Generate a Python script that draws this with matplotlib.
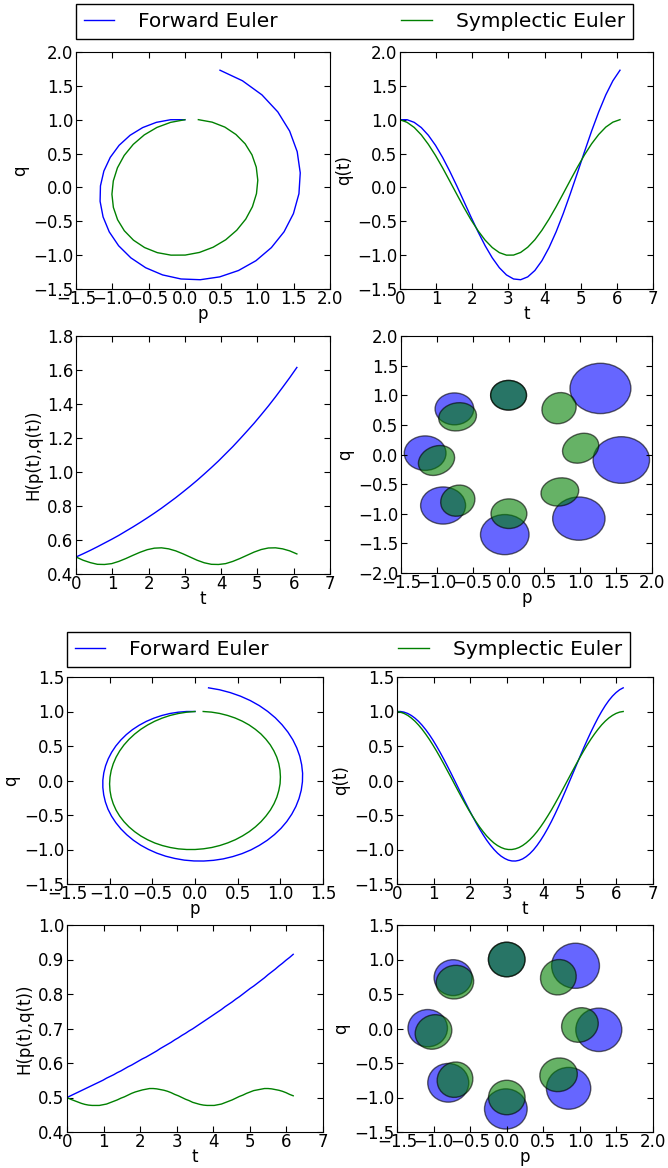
import numpy as np
import matplotlib
matplotlib.use("Agg")
import matplotlib.pyplot as plt
from matplotlib.patches import Ellipse
from matplotlib.lines import Line2D

# harmonic oscillator, dt = 2*pi/32 (upper block)
t_a = [0.000, 0.196, 0.393, 0.589, 0.785, 0.982, 1.178, 1.374, 1.571, 1.767, 1.963,
       2.160, 2.356, 2.553, 2.749, 2.945, 3.142, 3.338, 3.534, 3.731, 3.927, 4.123,
       4.320, 4.516, 4.712, 4.909, 5.105, 5.301, 5.498, 5.694, 5.890, 6.087]
p_fe_a = [0.000, -0.196, -0.393, -0.581, -0.755, -0.906, -1.028, -1.116, -1.163, -1.168, -1.127,
          -1.042, -0.913, -0.744, -0.540, -0.307, -0.053, 0.212, 0.480, 0.739, 0.980, 1.192,
          1.367, 1.496, 1.572, 1.590, 1.548, 1.444, 1.281, 1.062, 0.794, 0.484]
q_fe_a = [1.000, 1.000, 0.961, 0.884, 0.770, 0.622, 0.444, 0.242, 0.023, -0.205, -0.435,
          -0.656, -0.861, -1.040, -1.186, -1.292, -1.352, -1.363, -1.321, -1.227, -1.082, -0.889,
          -0.655, -0.387, -0.093, 0.215, 0.528, 0.832, 1.115, 1.367, 1.575, 1.731]
p_se_a = [0.000, -0.196, -0.385, -0.559, -0.711, -0.836, -0.929, -0.986, -1.005, -0.985, -0.927,
          -0.834, -0.708, -0.555, -0.380, -0.191, 0.005, 0.201, 0.390, 0.563, 0.715, 0.839,
          0.931, 0.987, 1.005, 0.984, 0.925, 0.831, 0.704, 0.551, 0.376, 0.186]
q_se_a = [1.000, 0.961, 0.886, 0.776, 0.636, 0.472, 0.290, 0.096, -0.101, -0.295, -0.477,
          -0.640, -0.779, -0.888, -0.963, -1.000, -0.999, -0.960, -0.883, -0.773, -0.632, -0.468,
          -0.285, -0.091, 0.106, 0.299, 0.481, 0.644, 0.782, 0.891, 0.964, 1.001]
H_fe_a = [0.500, 0.519, 0.539, 0.560, 0.582, 0.604, 0.627, 0.652, 0.677, 0.703, 0.730,
          0.758, 0.787, 0.818, 0.849, 0.882, 0.916, 0.951, 0.988, 1.026, 1.065, 1.107,
          1.149, 1.194, 1.240, 1.287, 1.337, 1.388, 1.442, 1.498, 1.555, 1.615]
H_se_a = [0.500, 0.481, 0.467, 0.457, 0.456, 0.461, 0.474, 0.491, 0.510, 0.528, 0.543,
          0.552, 0.554, 0.548, 0.536, 0.519, 0.500, 0.481, 0.466, 0.457, 0.456, 0.461,
          0.474, 0.491, 0.510, 0.529, 0.544, 0.553, 0.554, 0.548, 0.536, 0.518]
# disc of radius 0.25 around (0, 1), carried along every 4th step
disc_fe_a = [0.500, 0.539, 0.582, 0.627, 0.677, 0.730, 0.787, 0.849]
disc_se_w_a = [0.500, 0.536, 0.552, 0.536, 0.500, 0.536, 0.552, 0.536]
disc_se_h_a = [0.500, 0.466, 0.453, 0.466, 0.500, 0.466, 0.453, 0.467]
disc_se_ang_a = [0.0, -157.4, -134.9, 67.5, -179.9, -157.2, -134.8, 67.7]

# same, dt = 2*pi/64 (lower block)
t_b = [0.000, 0.098, 0.196, 0.295, 0.393, 0.491, 0.589, 0.687, 0.785, 0.884, 0.982,
       1.080, 1.178, 1.276, 1.374, 1.473, 1.571, 1.669, 1.767, 1.865, 1.963, 2.062,
       2.160, 2.258, 2.356, 2.454, 2.553, 2.651, 2.749, 2.847, 2.945, 3.043, 3.142,
       3.240, 3.338, 3.436, 3.534, 3.632, 3.731, 3.829, 3.927, 4.025, 4.123, 4.222,
       4.320, 4.418, 4.516, 4.614, 4.712, 4.811, 4.909, 5.007, 5.105, 5.203, 5.301,
       5.400, 5.498, 5.596, 5.694, 5.792, 5.890, 5.989, 6.087, 6.185]
p_fe_b = [0.000, -0.098, -0.196, -0.294, -0.389, -0.481, -0.570, -0.654, -0.733, -0.805, -0.870,
          -0.928, -0.977, -1.017, -1.048, -1.069, -1.080, -1.080, -1.070, -1.050, -1.020, -0.979,
          -0.928, -0.868, -0.799, -0.722, -0.637, -0.545, -0.447, -0.344, -0.236, -0.125, -0.012,
          0.103, 0.217, 0.331, 0.442, 0.551, 0.655, 0.753, 0.846, 0.931, 1.008, 1.076,
          1.134, 1.182, 1.219, 1.245, 1.259, 1.261, 1.250, 1.228, 1.193, 1.147, 1.089,
          1.020, 0.941, 0.852, 0.754, 0.647, 0.533, 0.413, 0.288, 0.159]
q_fe_b = [1.000, 1.000, 0.990, 0.971, 0.942, 0.904, 0.857, 0.801, 0.737, 0.665, 0.586,
          0.500, 0.409, 0.313, 0.213, 0.110, 0.005, -0.101, -0.207, -0.312, -0.415, -0.515,
          -0.611, -0.702, -0.787, -0.866, -0.937, -0.999, -1.053, -1.097, -1.130, -1.154, -1.166,
          -1.167, -1.157, -1.136, -1.103, -1.060, -1.006, -0.941, -0.867, -0.784, -0.693, -0.594,
          -0.488, -0.377, -0.261, -0.141, -0.019, 0.105, 0.228, 0.351, 0.472, 0.589, 0.701,
          0.808, 0.909, 1.001, 1.085, 1.159, 1.222, 1.274, 1.315, 1.343]
p_se_b = [0.000, -0.098, -0.195, -0.291, -0.383, -0.472, -0.556, -0.635, -0.708, -0.774, -0.833,
          -0.883, -0.925, -0.958, -0.982, -0.996, -1.001, -0.996, -0.982, -0.958, -0.925, -0.883,
          -0.832, -0.773, -0.707, -0.634, -0.555, -0.471, -0.382, -0.290, -0.194, -0.097, 0.001,
          0.099, 0.197, 0.292, 0.384, 0.473, 0.557, 0.636, 0.709, 0.775, 0.833, 0.884,
          0.926, 0.959, 0.982, 0.997, 1.001, 0.996, 0.982, 0.958, 0.924, 0.882, 0.831,
          0.773, 0.706, 0.633, 0.554, 0.470, 0.381, 0.288, 0.193, 0.096]
q_se_b = [1.000, 0.990, 0.971, 0.943, 0.905, 0.859, 0.804, 0.742, 0.672, 0.596, 0.514,
          0.428, 0.337, 0.243, 0.146, 0.049, -0.050, -0.148, -0.244, -0.338, -0.429, -0.515,
          -0.597, -0.673, -0.742, -0.805, -0.859, -0.906, -0.943, -0.971, -0.991, -1.000, -1.000,
          -0.990, -0.971, -0.942, -0.904, -0.858, -0.803, -0.741, -0.671, -0.595, -0.513, -0.427,
          -0.336, -0.242, -0.145, -0.047, 0.051, 0.149, 0.245, 0.339, 0.430, 0.517, 0.598,
          0.674, 0.743, 0.806, 0.860, 0.906, 0.943, 0.972, 0.991, 1.000]
H_fe_b = [0.500, 0.505, 0.510, 0.515, 0.520, 0.525, 0.530, 0.535, 0.540, 0.545, 0.550,
          0.556, 0.561, 0.566, 0.572, 0.577, 0.583, 0.589, 0.594, 0.600, 0.606, 0.612,
          0.617, 0.623, 0.629, 0.635, 0.642, 0.648, 0.654, 0.660, 0.667, 0.673, 0.680,
          0.686, 0.693, 0.699, 0.706, 0.713, 0.720, 0.727, 0.734, 0.741, 0.748, 0.755,
          0.763, 0.770, 0.777, 0.785, 0.792, 0.800, 0.808, 0.816, 0.823, 0.831, 0.839,
          0.847, 0.856, 0.864, 0.872, 0.881, 0.889, 0.898, 0.906, 0.915]
H_se_b = [0.500, 0.495, 0.491, 0.487, 0.483, 0.480, 0.478, 0.477, 0.477, 0.477, 0.479,
          0.481, 0.485, 0.489, 0.493, 0.498, 0.502, 0.507, 0.512, 0.516, 0.519, 0.522,
          0.524, 0.526, 0.526, 0.525, 0.523, 0.521, 0.518, 0.514, 0.509, 0.505, 0.500,
          0.495, 0.491, 0.486, 0.483, 0.480, 0.478, 0.477, 0.477, 0.477, 0.479, 0.481,
          0.485, 0.489, 0.493, 0.498, 0.503, 0.507, 0.512, 0.516, 0.520, 0.522, 0.524,
          0.526, 0.526, 0.525, 0.523, 0.521, 0.518, 0.514, 0.509, 0.505]
# every 8th step
disc_fe_b = [0.500, 0.520, 0.540, 0.561, 0.583, 0.606, 0.629, 0.654]
disc_se_w_b = [0.500, 0.518, 0.525, 0.518, 0.500, 0.518, 0.525, 0.518]
disc_se_h_b = [0.500, 0.483, 0.476, 0.483, 0.500, 0.483, 0.476, 0.483]
disc_se_ang_b = [0.0, -157.5, -135.0, 67.5, -180.0, -157.4, -134.9, 67.5]

plt.rcParams['font.family'] = ['DejaVu Sans']
plt.rcParams['font.size'] = 12
plt.rcParams['xtick.direction'] = 'in'
plt.rcParams['ytick.direction'] = 'in'
plt.rcParams['xtick.top'] = True
plt.rcParams['ytick.right'] = True
plt.rcParams['xtick.major.size'] = 4.5
plt.rcParams['ytick.major.size'] = 4.5
plt.rcParams['xtick.major.pad'] = 0.5
plt.rcParams['ytick.major.pad'] = 2
plt.rcParams['axes.labelpad'] = 3

W, H = 668, 1168
fig = plt.figure(figsize=(W / 100, H / 100), dpi=100)


def box(x0, y0, x1, y1):
    return [x0 / W, 1 - y1 / H, (x1 - x0) / W, (y1 - y0) / H]


def block(rects, leg, t, pf, qf, ps, qs, Hf, Hs, every, d_fe, w_se, h_se, a_se, lims):
    ax1 = fig.add_axes(box(*rects[0]))
    ax1.plot(pf, qf, 'b', lw=1)
    ax1.plot(ps, qs, 'g', lw=1)
    ax1.set_xlim(lims[0]); ax1.set_ylim(lims[1])
    ax1.set_xticks(np.arange(lims[0][0], lims[0][1] + 0.01, 0.5))
    ax1.set_yticks(np.arange(lims[1][0], lims[1][1] + 0.01, 0.5))
    ax1.set_xlabel('p', labelpad=-2); ax1.set_ylabel('q')

    ax2 = fig.add_axes(box(*rects[1]))
    ax2.plot(t, qf, 'b', lw=1)
    ax2.plot(t, qs, 'g', lw=1)
    ax2.set_xlim(0, 7); ax2.set_ylim(lims[1])
    ax2.set_xticks(range(8))
    ax2.set_yticks(np.arange(lims[1][0], lims[1][1] + 0.01, 0.5))
    ax2.set_xlabel('t', labelpad=-2); ax2.set_ylabel('q(t)')

    ax3 = fig.add_axes(box(*rects[2]))
    ax3.plot(t, Hf, 'b', lw=1)
    ax3.plot(t, Hs, 'g', lw=1)
    ax3.set_xlim(0, 7); ax3.set_ylim(lims[2][0], lims[2][1])
    ax3.set_xticks(range(8))
    ax3.set_yticks(np.arange(lims[2][0], lims[2][1] + 0.01, lims[2][2]))
    ax3.set_xlabel('t', labelpad=-2); ax3.set_ylabel('H(p(t),q(t))')

    ax4 = fig.add_axes(box(*rects[3]))
    for i in range(len(d_fe)):
        ax4.add_patch(Ellipse((pf[i * every], qf[i * every]), d_fe[i], d_fe[i],
                              facecolor='b', edgecolor='k', alpha=0.6, lw=1))
    for i in range(len(w_se)):
        ax4.add_patch(Ellipse((ps[i * every], qs[i * every]), w_se[i], h_se[i], angle=a_se[i],
                              facecolor='g', edgecolor='k', alpha=0.6, lw=1))
    ax4.set_xlim(-1.5, 2.0); ax4.set_ylim(lims[3])
    ax4.set_xticks(np.arange(-1.5, 2.01, 0.5))
    ax4.set_yticks(np.arange(lims[3][0], lims[3][1] + 0.01, 0.5))
    ax4.set_xlabel('p', labelpad=-2); ax4.set_ylabel('q')

    handles = [Line2D([], [], color='b', lw=1), Line2D([], [], color='g', lw=1)]
    x0, y0, x1, y1 = leg
    fig.legend(handles, ['Forward Euler', 'Symplectic Euler'], loc='upper left',
               bbox_to_anchor=(x0 / W, 1 - y0 / H, (x1 - x0) / W, 0), mode='expand',
               ncol=2, fontsize=14.5, handlelength=1.5, handletextpad=1.2,
               borderaxespad=0, fancybox=False, edgecolor='k', framealpha=1)


block([(76, 52, 330, 289), (400, 52, 653, 289), (76, 336, 330, 574), (401, 336, 652, 573)],
      (76, 4, 633, 40), t_a, p_fe_a, q_fe_a, p_se_a, q_se_a, H_fe_a, H_se_a, 4,
      disc_fe_a, disc_se_w_a, disc_se_h_a, disc_se_ang_a,
      [(-1.5, 2.0), (-1.5, 2.0), (0.4, 1.8, 0.2), (-2.0, 2.0)])

block([(67, 677, 323, 884), (397, 677, 653, 884), (67, 925, 323, 1132), (397, 925, 653, 1132)],
      (67, 632, 630, 667), t_b, p_fe_b, q_fe_b, p_se_b, q_se_b, H_fe_b, H_se_b, 8,
      disc_fe_b, disc_se_w_b, disc_se_h_b, disc_se_ang_b,
      [(-1.5, 1.5), (-1.5, 1.5), (0.4, 1.0, 0.1), (-1.5, 1.5)])

fig.savefig('out.png', dpi=100)
